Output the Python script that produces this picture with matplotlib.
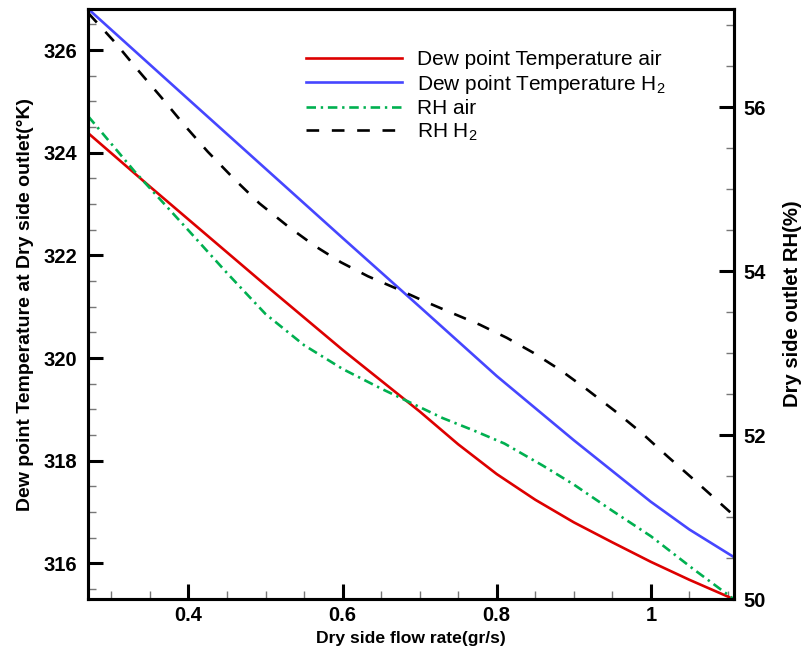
"""Dew point temperature and RH at the dry side outlet vs. dry side flow rate."""
import matplotlib
matplotlib.use("Agg")
import matplotlib.pyplot as plt
from matplotlib.ticker import MultipleLocator, FixedLocator, FixedFormatter

plt.rcParams["font.family"] = ["Liberation Sans", "DejaVu Sans"]
plt.rcParams["mathtext.default"] = "regular"

# dew point temperature, air (K)
x_dew_air = [0.27, 0.35, 0.40, 0.50, 0.60, 0.70, 0.75, 0.80, 0.85, 0.90, 0.95, 1.00, 1.05, 1.108]
t_dew_air = [324.38, 323.34, 322.70, 321.42, 320.16, 318.96, 318.32, 317.74, 317.24, 316.80,
             316.41, 316.03, 315.68, 315.30]
# dew point temperature, H2 (K)
x_dew_h2 = [0.27, 0.40, 0.50, 0.60, 0.70, 0.80, 0.90, 1.00, 1.05, 1.108]
t_dew_h2 = [326.80, 325.04, 323.69, 322.34, 321.00, 319.65, 318.40, 317.20, 316.66, 316.12]
# relative humidity, air (%)
x_rh_air = [0.27, 0.33, 0.40, 0.45, 0.50, 0.55, 0.60, 0.65, 0.69, 0.73, 0.77, 0.81, 0.86,
            0.90, 0.95, 1.00, 1.055, 1.108]
rh_air = [55.89, 55.22, 54.50, 53.98, 53.48, 53.10, 52.81, 52.57, 52.39, 52.21, 52.06, 51.90,
          51.63, 51.40, 51.08, 50.77, 50.37, 50.00]
# relative humidity, H2 (%)
x_rh_h2 = [0.27, 0.304, 0.334, 0.365, 0.395, 0.425, 0.46, 0.492, 0.529, 0.564, 0.598, 0.633,
           0.67, 0.705, 0.74, 0.778, 0.813, 0.847, 0.882, 0.917, 0.953, 0.988, 1.022, 1.057, 1.108]
rh_h2 = [57.15, 56.80, 56.46, 56.12, 55.78, 55.46, 55.12, 54.83, 54.55, 54.31, 54.11, 53.94,
         53.79, 53.64, 53.50, 53.35, 53.19, 53.01, 52.80, 52.56, 52.30, 52.03, 51.74, 51.45, 51.02]

x_ticks = [0.4, 0.6, 0.8, 1.0]
x_tick_labels = ["0.4", "0.6", "0.8", "1"]
labels = ["Dew point Temperature air", "Dew point Temperature H$_2$", "RH air", "RH H$_2$"]

fig = plt.figure(figsize=(8.04, 6.59), dpi=100)
ax = fig.add_axes([0.1098, 0.0906, 0.8032, 0.8957])
ax2 = ax.twinx()

lw = 1.9
h1, = ax.plot(x_dew_air, t_dew_air, color="#dd0000", lw=lw)
h2, = ax.plot(x_dew_h2, t_dew_h2, color="#4646ff", lw=lw)
h3, = ax2.plot(x_rh_air, rh_air, color="#00b050", lw=lw, dashes=(3.6, 1.8, 0.9, 1.8))
h4, = ax2.plot(x_rh_h2, rh_h2, color="black", lw=lw, dashes=(4.8, 4.8))

ax.set_xlim(0.27, 1.108)
ax.set_ylim(315.3, 326.8)
ax2.set_ylim(50, 57.2)

ax.xaxis.set_major_locator(FixedLocator(x_ticks))
ax.xaxis.set_major_formatter(FixedFormatter(x_tick_labels))
ax.xaxis.set_minor_locator(MultipleLocator(0.05))
ax.yaxis.set_major_locator(MultipleLocator(2))
ax.yaxis.set_minor_locator(MultipleLocator(0.5))
ax2.yaxis.set_major_locator(MultipleLocator(2))
ax2.yaxis.set_minor_locator(MultipleLocator(0.5))

for a in (ax, ax2):
    for s in a.spines.values():
        s.set_linewidth(2.2)
    a.tick_params(which="major", direction="in", length=10.5, width=2.2, labelsize=14.5)
    a.tick_params(which="minor", direction="in", length=5.5, width=1.0, color="#777777")
ax.tick_params(axis="x", which="both", top=False, pad=5)
ax.tick_params(axis="y", which="both", right=False, pad=8)
ax2.tick_params(axis="y", which="both", left=False, pad=7)
for t in ax.get_xticklabels() + ax.get_yticklabels() + ax2.get_yticklabels():
    t.set_fontweight("bold")

ax.set_xlabel("Dry side flow rate(gr/s)", fontsize=12.6, fontweight="bold", labelpad=4)
ax.set_ylabel("Dew point Temperature at Dry side outlet(°K)", fontsize=14, fontweight="bold",
              labelpad=7)
ax2.set_ylabel("Dry side outlet RH(%)", fontsize=14.6, fontweight="bold", labelpad=12)

ax2.legend([h1, h2, h3, h4], labels, loc="upper left", bbox_to_anchor=(306 / 804, 1 - 50 / 659),
           bbox_transform=fig.transFigure, frameon=False, fontsize=15, handlelength=4.6,
           handletextpad=0.75, labelspacing=0.17, borderpad=0, borderaxespad=0)

fig.savefig("out.png", dpi=100)
